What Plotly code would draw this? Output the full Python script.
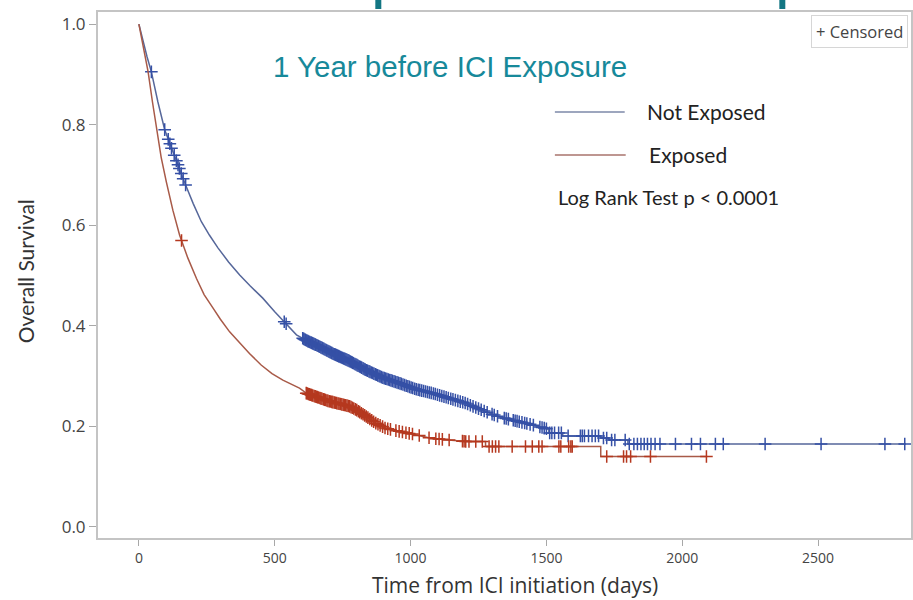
import numpy as np
import plotly.graph_objects as go

# Kaplan-Meier estimates (days since ICI initiation, survival probability)
not_exposed_days = [0, 15, 30, 46, 70, 95, 120, 144, 169, 200, 230, 260, 291, 330, 371, 410,
                    456, 500, 542, 580, 620, 660, 713, 775, 836, 897, 958, 1019, 1080, 1142,
                    1203, 1264, 1325, 1387, 1448, 1509, 1509, 1560, 1560, 1700, 1700, 1730,
                    1730, 1800, 1800, 2823]
not_exposed_surv = [1.000, 0.965, 0.935, 0.905, 0.845, 0.790, 0.753, 0.720, 0.684, 0.643, 0.607,
                    0.580, 0.555, 0.527, 0.501, 0.479, 0.455, 0.428, 0.404, 0.382, 0.370, 0.360,
                    0.345, 0.330, 0.312, 0.297, 0.286, 0.274, 0.266, 0.256, 0.246, 0.232, 0.219,
                    0.211, 0.203, 0.194, 0.187, 0.187, 0.181, 0.181, 0.177, 0.177, 0.173, 0.173,
                    0.165, 0.165]

exposed_days = [0, 12, 22, 34, 50, 65, 82, 101, 125, 150, 180, 212, 240, 273, 300, 334, 370,
                407, 450, 490, 530, 560, 591, 616, 652, 700, 775, 800, 836, 870, 909, 950, 995,
                1040, 1080, 1140, 1203, 1276, 1276, 1700, 1700, 2092]
exposed_surv = [1.000, 0.965, 0.935, 0.905, 0.845, 0.790, 0.735, 0.686, 0.630, 0.580, 0.535,
                0.494, 0.462, 0.435, 0.413, 0.388, 0.366, 0.345, 0.322, 0.305, 0.292, 0.284,
                0.276, 0.266, 0.259, 0.250, 0.240, 0.233, 0.220, 0.207, 0.196, 0.191, 0.186,
                0.181, 0.176, 0.173, 0.170, 0.170, 0.160, 0.160, 0.140, 0.140]

# Censoring times
not_exposed_censored = [46, 95, 108, 114, 120, 130, 138, 144, 149, 156, 163, 172, 535, 542,
                        603, 607, 611, 614, 618, 622, 625, 629, 633, 636, 640, 644, 648, 651,
                        655, 659, 662, 666, 670, 674, 677, 681, 685, 689, 692, 696, 700, 704,
                        708, 711, 715, 719, 723, 727, 731, 735, 738, 742, 746, 750, 754, 758,
                        762, 766, 770, 774, 778, 782, 786, 790, 795, 799, 803, 807, 812, 816,
                        820, 825, 829, 833, 838, 842, 847, 851, 856, 860, 865, 870, 874, 879,
                        884, 888, 893, 898, 903, 908, 913, 918, 923, 928, 933, 939, 944, 950,
                        955, 961, 966, 972, 978, 984, 990, 996, 1002, 1008, 1015, 1021, 1028,
                        1034, 1041, 1048, 1055, 1062, 1069, 1076, 1084, 1091, 1099, 1107, 1115,
                        1123, 1131, 1139, 1148, 1156, 1165, 1174, 1183, 1192, 1201, 1210, 1220,
                        1230, 1240, 1250, 1260, 1271, 1282, 1300, 1308, 1320, 1345, 1352, 1360,
                        1378, 1385, 1392, 1400, 1410, 1420, 1428, 1440, 1452, 1476, 1484, 1492,
                        1500, 1512, 1520, 1530, 1545, 1555, 1580, 1625, 1632, 1640, 1655, 1668,
                        1680, 1692, 1710, 1722, 1740, 1752, 1790, 1805, 1822, 1835, 1848, 1860,
                        1872, 1885, 1900, 1918, 1975, 2034, 2067, 2122, 2151, 2305, 2511, 2746,
                        2819]
exposed_censored = [157, 616, 620, 624, 628, 632, 636, 640, 645, 649, 653, 657, 661, 666, 670,
                    674, 679, 683, 687, 692, 696, 701, 705, 710, 714, 719, 723, 728, 733, 737,
                    742, 747, 752, 756, 761, 766, 771, 776, 781, 786, 791, 797, 802, 808, 813,
                    819, 825, 831, 837, 843, 850, 857, 864, 872, 880, 888, 897, 906, 916, 926,
                    946, 958, 970, 983, 995, 1007, 1032, 1068, 1093, 1105, 1117, 1142, 1191,
                    1197, 1203, 1215, 1240, 1264, 1289, 1301, 1313, 1325, 1374, 1423, 1448,
                    1472, 1484, 1546, 1553, 1582, 1590, 1595, 1722, 1784, 1795, 1810, 1883,
                    2089]

x_ticks = [0, 500, 1000, 1500, 2000, 2500]
y_ticks = [0.0, 0.2, 0.4, 0.6, 0.8, 1.0]

BLUE_LINE = "#56679a"
BLUE_MARK = "#3550a6"
RED_LINE = "#a85a48"
RED_MARK = "#b5381f"
TEAL = "#17899a"


def on_curve(times, days, surv):
    return np.interp(times, days, surv)


fig = go.Figure()

for days, surv, cens, lc, mc, name in [
    (not_exposed_days, not_exposed_surv, not_exposed_censored, BLUE_LINE, BLUE_MARK, "Not Exposed"),
    (exposed_days, exposed_surv, exposed_censored, RED_LINE, RED_MARK, "Exposed"),
]:
    fig.add_trace(go.Scatter(x=days, y=surv, mode="lines", name=name,
                             line=dict(color=lc, width=1.5), showlegend=False))
    fig.add_trace(go.Scatter(x=cens, y=on_curve(cens, days, surv), mode="markers",
                             name=name + " censored", showlegend=False,
                             marker=dict(symbol="cross-thin", size=9,
                                         line=dict(color=mc, width=1.5))))

# plot area in pixels: x 98..913, y 12..538
def px(xp):
    return (xp - 98) / 815


def py(yp):
    return (538 - yp) / 526


shapes = [
    dict(type="line", xref="paper", yref="paper", x0=px(556), x1=px(626), y0=py(112), y1=py(112),
         line=dict(color="#7d88a8", width=1.6)),
    dict(type="line", xref="paper", yref="paper", x0=px(556), x1=px(627), y0=py(155), y1=py(155),
         line=dict(color="#a9736d", width=1.6)),
    # descenders of the slide heading above the chart
    dict(type="rect", xref="paper", yref="paper", x0=px(376), x1=px(382), y0=py(9), y1=py(0),
         fillcolor="#137683", line=dict(width=0)),
    dict(type="rect", xref="paper", yref="paper", x0=px(781), x1=px(787), y0=py(9), y1=py(0),
         fillcolor="#137683", line=dict(width=0)),
]

gill = "Lato, 'Open Sans', sans-serif"
annotations = [
    dict(text="1 Year before ICI Exposure", x=px(451), y=py(66), xref="paper", yref="paper",
         showarrow=False, xanchor="center", yanchor="middle",
         font=dict(family="'Liberation Sans', Arial, sans-serif", size=29.5, color=TEAL)),
    dict(text="Not Exposed", x=px(646), y=py(112), xref="paper", yref="paper", showarrow=False,
         xanchor="left", yanchor="middle", font=dict(family=gill, size=21, color="#222")),
    dict(text="Exposed", x=px(648), y=py(154), xref="paper", yref="paper", showarrow=False,
         xanchor="left", yanchor="middle", font=dict(family=gill, size=21, color="#222")),
    dict(text="Log Rank Test p < 0.0001", x=px(557), y=py(197), xref="paper", yref="paper",
         showarrow=False, xanchor="left", yanchor="middle",
         font=dict(family=gill, size=20, color="#222")),
    dict(text="+ Censored", x=px(910), y=py(31), xref="paper", yref="paper", showarrow=False,
         xanchor="right", yanchor="middle", bordercolor="#d6d6d6", borderwidth=1, borderpad=4,
         bgcolor="white", font=dict(family="'Open Sans', sans-serif", size=16.5, color="#444")),
    dict(text="Overall Survival", x=px(25), y=py(271), xref="paper", yref="paper",
         showarrow=False, textangle=-90, xanchor="center", yanchor="middle",
         font=dict(family=gill, size=21, color="#333")),
    dict(text="Time from ICI initiation (days)", x=px(516), y=py(585), xref="paper",
         yref="paper", showarrow=False, xanchor="center", yanchor="middle",
         font=dict(family="'Open Sans', sans-serif", size=21, color="#333")),
]

fig.update_layout(
    width=913, height=600,
    margin=dict(l=98, r=0, t=12, b=62, pad=0),
    paper_bgcolor="white", plot_bgcolor="white",
    shapes=shapes, annotations=annotations,
    xaxis=dict(range=[-150.5, 2842], tickvals=x_ticks, ticktext=[str(v) for v in x_ticks],
               showgrid=False, zeroline=False, showline=True, linecolor="#c4c4c4", linewidth=2,
               mirror=True, ticks="outside", ticklen=6, tickcolor="#a8a8a8", tickwidth=1,
               tickfont=dict(family="'Open Sans', sans-serif", size=14, color="#444")),
    yaxis=dict(range=[-0.022, 1.024], tickvals=y_ticks, ticktext=[f"{v:.1f}" for v in y_ticks],
               showgrid=False, zeroline=False, showline=True, linecolor="#c4c4c4", linewidth=2,
               mirror=True, ticks="outside", ticklen=7, tickcolor="#a8a8a8", tickwidth=1,
               tickfont=dict(family="'Open Sans', sans-serif", size=17, color="#444")),
)

fig.write_html("out.html")
